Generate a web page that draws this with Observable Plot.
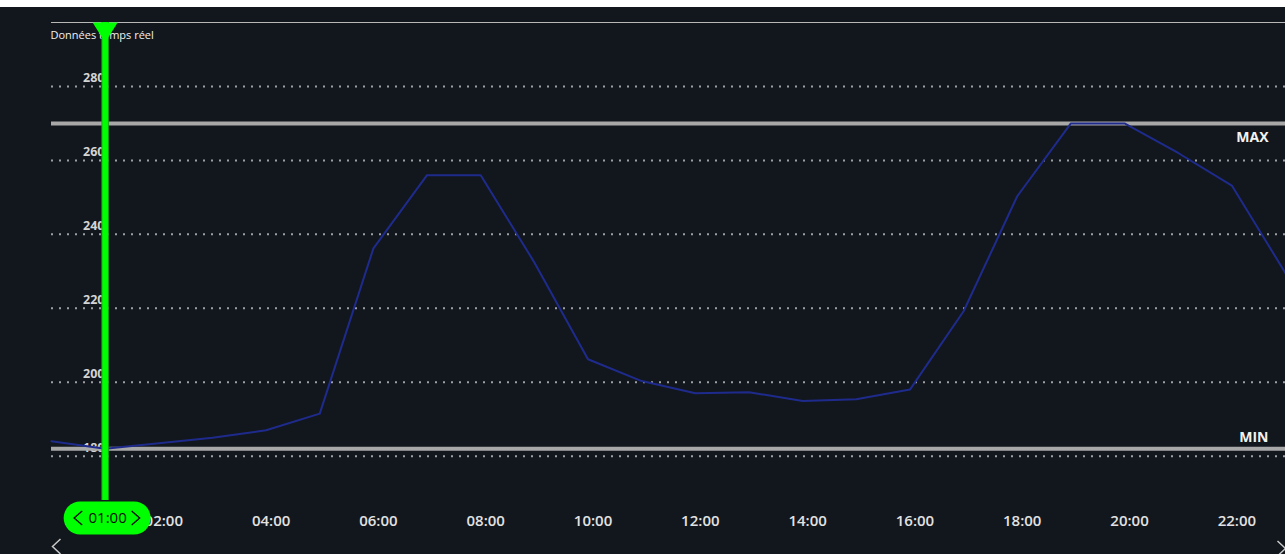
<!DOCTYPE html>
<html>
<head>
<meta charset="utf-8">
<script src="https://cdn.jsdelivr.net/npm/d3@7"></script>
<script src="https://cdn.jsdelivr.net/npm/@observablehq/plot@0.6"></script>
<style>
  html, body { margin: 0; padding: 0; background: #ffffff; }
  #wrap { width: 1285px; background: #ffffff; }
  svg { display: block; }
</style>
</head>
<body>
<div id="wrap"></div>
<script>
// ---- data ----
const title = "Données temps réel";
const hours = [0,1,2,3,4,5,6,7,8,9,10,11,12,13,14,15,16,17,18,19,20,21,22,23];
const values = [184,182,183.5,185,187,191.5,236.2,256,256,232.4,206.2,200.3,197,197.3,194.9,195.4,198,219.2,250.3,270,270,262,253.2,229.5];
const yTicks = [180,200,220,240,260,280];
const xTicks = [2,4,6,8,10,12,14,16,18,20,22];
const xTickLabels = ["02:00","04:00","06:00","08:00","10:00","12:00","14:00","16:00","18:00","20:00","22:00"];
const maxLimit = [{label: "MAX", value: 270}];
const minLimit = [{label: "MIN", value: 182}];
const cursorHour = [1];

const data = hours.map((h, i) => ({hour: h, value: values[i]}));
const fmtHour = h => String(h).padStart(2, "0") + ":00";

// ---- custom symbols ----
const pill = {draw(ctx) {
  const w = 87, h = 33, r = 16.5;
  ctx.moveTo(-w/2 + r, -h/2);
  ctx.lineTo(w/2 - r, -h/2);
  ctx.arc(w/2 - r, 0, r, -Math.PI/2, Math.PI/2);
  ctx.lineTo(-w/2 + r, h/2);
  ctx.arc(-w/2 + r, 0, r, Math.PI/2, 3*Math.PI/2);
  ctx.closePath();
}};
const triDown = {draw(ctx) {
  ctx.moveTo(-12.5, -10); ctx.lineTo(12.5, -10); ctx.lineTo(0, 10); ctx.closePath();
}};
const chevL = (w, h) => ({draw(ctx) { ctx.moveTo(w/2, -h/2); ctx.lineTo(-w/2, 0); ctx.lineTo(w/2, h/2); }});
const chevR = (w, h) => ({draw(ctx) { ctx.moveTo(-w/2, -h/2); ctx.lineTo(w/2, 0); ctx.lineTo(-w/2, h/2); }});

const font = "'Open Sans', 'DejaVu Sans', sans-serif";
const limitText = {frameAnchor: "right", textAnchor: "end", dx: -17, fontSize: 14, fontWeight: 700, fill: "#f2f2f2"};

const chart = Plot.plot({
  width: 1285,
  height: 547,
  marginTop: 15,
  marginBottom: 54,
  marginLeft: 51,
  marginRight: 0,
  style: {background: "#12171d", fontFamily: font, color: "#dcdcdc", overflow: "visible", borderTop: "7px solid #ffffff"},
  x: {domain: [0, 23]},
  y: {domain: [168, 297.3]},
  marks: [
    Plot.frame({anchor: "top", stroke: "#b8b8b8", strokeWidth: 1}),
    Plot.gridY(yTicks, {stroke: "#b5b9bd", strokeOpacity: 0.85, strokeWidth: 2, strokeDasharray: "2,6"}),
    Plot.axisY({ticks: yTicks, tickSize: 0, tickPadding: 0, textAnchor: "end", dx: 53, dy: -8.5,
      fontSize: 12.5, fontWeight: 700, fill: "#d4d4d4", label: null}),
    Plot.axisX({ticks: xTicks, tickFormat: (d) => xTickLabels[xTicks.indexOf(d)], tickSize: 0, tickPadding: 15,
      dx: 5, fontSize: 15, fontWeight: 600, fill: "#e2e2e2", label: null}),
    Plot.ruleY(maxLimit, {y: "value", stroke: "#a8a8a8", strokeWidth: 4}),
    Plot.ruleY(minLimit, {y: "value", stroke: "#a8a8a8", strokeWidth: 4}),
    Plot.text(maxLimit, {y: "value", text: "label", dy: 14, ...limitText}),
    Plot.text(minLimit, {y: "value", text: "label", dy: -11, ...limitText}),
    Plot.line(data, {x: "hour", y: "value", stroke: "#1f2b8c", strokeWidth: 2}),
    Plot.text([title], {text: d => d, frameAnchor: "top-left", lineAnchor: "middle", textAnchor: "start", dx: -1, dy: 13,
      fontSize: 11, fill: "#f0f0f0"}),
    // cursor
    Plot.ruleX(cursorHour, {x: d => d, stroke: "#18a818", strokeWidth: 7.5}),
    Plot.ruleX(cursorHour, {x: d => d, stroke: "#00ff00", strokeWidth: 5.5}),
    Plot.dot(cursorHour, {x: d => d, frameAnchor: "top", dy: 10, symbol: triDown, fill: "#00ff00", stroke: "none"}),
    Plot.dot(cursorHour, {x: d => d, frameAnchor: "bottom", dx: 2, dy: 17.5, symbol: pill, fill: "#00ff00", stroke: "none"}),
    Plot.text(cursorHour, {x: d => d, text: fmtHour, frameAnchor: "bottom", lineAnchor: "middle", dx: 2.5, dy: 17.5,
      fontSize: 15, fontWeight: 500, fill: "#0a0a0a"}),
    Plot.dot(cursorHour, {x: d => d, frameAnchor: "bottom", dx: -27, dy: 17.5, symbol: chevL(8, 14), fill: "none",
      stroke: "#0a0a0a", strokeWidth: 1.4}),
    Plot.dot(cursorHour, {x: d => d, frameAnchor: "bottom", dx: 30.5, dy: 17.5, symbol: chevR(8, 14), fill: "none",
      stroke: "#0a0a0a", strokeWidth: 1.4}),
    // navigation chevrons
    Plot.dot([0], {frameAnchor: "bottom-left", dx: 5, dy: 46, symbol: chevL(8, 15), fill: "none", stroke: "#c8c8c8", strokeWidth: 1.5}),
    Plot.dot([0], {frameAnchor: "bottom-right", dx: -4, dy: 48, symbol: chevR(8, 15), fill: "none", stroke: "#c8c8c8", strokeWidth: 1.5})
  ]
});
document.getElementById("wrap").appendChild(chart);
</script>
</body>
</html>
